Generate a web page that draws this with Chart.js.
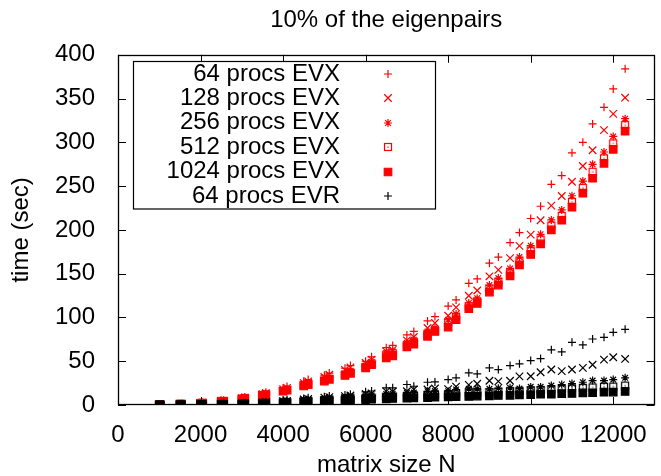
<!DOCTYPE html>
<html>
<head>
<meta charset="utf-8">
<script src="https://cdn.jsdelivr.net/npm/chart.js@4.4.1/dist/chart.umd.min.js"></script>
<style>
  html, body { margin: 0; padding: 0; background: #fff; overflow: hidden; }
</style>
</head>
<body>
<canvas id="chart" width="661" height="476"></canvas>
<script>
// matrix sizes: multiples of 500 and of 512
const matrixSizes = [1000, 1024, 1500, 1536, 2000, 2048, 2500, 2560, 3000, 3072, 3500, 3584, 4000, 4096, 4500, 4608,
  5000, 5120, 5500, 5632, 6000, 6144, 6500, 6656, 7000, 7168, 7500, 7680, 8000, 8192, 8500, 8704, 9000, 9216,
  9500, 9728, 10000, 10240, 10500, 10752, 11000, 11264, 11500, 11776, 12000, 12288];

const evx64 = [0.4, 0.4, 1.2, 1.3, 2.6, 2.8, 5, 5.4, 8.5, 9.2, 13.5, 14.5, 19.5, 21, 27, 29, 34, 36.5, 42, 45, 50, 55,
  65.5, 68, 80, 84, 96, 101, 113, 120, 139, 144, 162, 169, 185.5, 197, 213, 227, 252, 262, 288, 300, 321, 340, 361, 384];
const evx128 = [0.35, 0.4, 1.1, 1.2, 2.4, 2.6, 4.6, 5, 7.8, 8.5, 12.5, 13.4, 18, 19.5, 25, 27, 32, 34.5, 40, 43, 48, 51.8,
  61.3, 63, 73.8, 77.7, 88, 93.7, 102, 111.5, 124.8, 130.8, 147, 154.4, 167.7, 181.8, 194.6, 211, 227.7, 238.7, 255, 273, 291, 314, 332.5, 351];
const evx256 = [0.3, 0.3, 1, 1.1, 2.2, 2.4, 4.2, 4.6, 7.2, 7.8, 11.5, 12.3, 16.6, 17.9, 23, 24.7, 29, 31, 36, 38.5, 45, 49,
  59.5, 61.3, 71, 74.6, 84, 88, 97.4, 104, 116.5, 122, 137, 145, 156, 169, 182, 195, 211.4, 222.8, 239, 255.8, 274.9, 289, 306.8, 327];
const evx512 = [0.3, 0.3, 1, 1, 2.1, 2.3, 4.1, 4.4, 7, 7.6, 11.2, 12, 16.1, 17.4, 22.3, 24, 28, 30, 34.8, 37.3, 43.5, 47.5,
  57.5, 59.3, 68.8, 72.2, 81.5, 85.4, 94.5, 101, 113, 118.3, 133, 140.5, 151.3, 164, 176.5, 189, 205, 216, 232, 248, 266.4, 281.7, 298.8, 319.7];
const evx1024 = [0.3, 0.3, 0.9, 1, 2, 2.2, 3.9, 4.3, 6.8, 7.4, 10.9, 11.6, 15.7, 16.9, 21.7, 23.3, 27.3, 29.3, 33.7, 36.2, 42.5, 46,
  53.8, 56, 66.3, 69.5, 78.4, 84, 89, 97.4, 110, 116, 129, 137, 147.5, 160, 172, 184, 200, 211, 226, 242, 259, 276, 292, 312.8];

const evr64 = [0.1, 0.1, 0.3, 0.3, 0.6, 0.7, 1.2, 1.3, 2.2, 2.4, 3.5, 3.8, 5.8, 6.1, 7.5, 8.2, 9.5, 10.3, 11.5, 12.4, 15, 16,
  19.6, 19.6, 23.4, 21.4, 26, 26.4, 29, 31, 36.7, 35.5, 42.4, 40.5, 45, 47, 50.7, 53, 63, 60.6, 71.6, 68.6, 75.4, 77.3, 83, 86.4];
const evr128 = [0.1, 0.1, 0.2, 0.3, 0.5, 0.6, 1, 1.1, 1.8, 2, 2.9, 3.1, 4.5, 4.8, 6.3, 6.8, 8.4, 9, 10.2, 10.9, 12.6, 13.2,
  15.6, 15.4, 15.7, 17.7, 17.7, 18.8, 18.2, 21, 23, 24.3, 27.7, 27, 27.7, 32.7, 32.8, 37.4, 40.5, 38.7, 40.5, 42.4, 46, 51.8, 54.5, 52.6];
const evr256 = [0.1, 0.1, 0.2, 0.2, 0.4, 0.5, 0.9, 1, 1.5, 1.7, 2.5, 2.7, 3.8, 4, 5.3, 5.7, 6.9, 7.4, 8.4, 9, 10.4, 11,
  12.7, 12.9, 13.9, 14.2, 15.7, 15.9, 15.7, 17.7, 18.5, 18.6, 18.5, 19.2, 19.6, 18.8, 20.7, 20.7, 22.2, 23.4, 24.5, 26, 27.9, 27.9, 29, 31];
const evr512 = [0.1, 0.1, 0.2, 0.2, 0.4, 0.4, 0.8, 0.8, 1.3, 1.4, 2, 2.2, 3, 3.2, 4.2, 4.5, 5.5, 5.9, 6.8, 7.2, 8, 8.5,
  9.5, 9.9, 10.5, 11, 11.5, 12, 12.5, 13, 13.5, 14, 14.5, 15, 15.5, 16.2, 16.5, 17.2, 17.5, 18.3, 19, 19.6, 20, 20.8, 21, 22.2];
const evr1024 = [0.1, 0.1, 0.2, 0.2, 0.4, 0.4, 0.7, 0.7, 1.1, 1.2, 1.7, 1.8, 2.4, 2.6, 3.3, 3.5, 4.3, 4.6, 5.2, 5.5, 6.2, 6.6,
  7, 7.4, 7.8, 8.2, 8.5, 8.9, 9.2, 9.6, 9.8, 10.2, 10.5, 10.9, 11, 11.5, 11.8, 12.3, 12.4, 13, 13.2, 13.8, 14, 14.6, 14.8, 15.5];

const xTicks = [0, 2000, 4000, 6000, 8000, 10000, 12000];
const yTicks = [0, 50, 100, 150, 200, 250, 300, 350, 400];
const legendCount = 6; // the key only lists the first six series

// gnuplot style open square with a dot in the middle
function openBox(color) {
  const c = document.createElement('canvas');
  c.width = 10; c.height = 10;
  const g = c.getContext('2d');
  g.strokeStyle = color;
  g.lineWidth = 1.2;
  g.strokeRect(1.5, 1.5, 7, 7);
  g.fillStyle = color;
  g.fillRect(4.5, 4.5, 1.2, 1.2);
  return c;
}

const red = '#ff0000', black = '#000000';
const series = [
  ['64 procs EVX', evx64, red, 'cross', 4, false],
  ['128 procs EVX', evx128, red, 'crossRot', 5.3, false],
  ['256 procs EVX', evx256, red, 'star', 4, false],
  ['512 procs EVX', evx512, red, openBox(red), 5, false],
  ['1024 procs EVX', evx1024, red, 'rect', 5.3, true],
  ['64 procs EVR', evr64, black, 'cross', 4, false],
  ['128 procs EVR', evr128, black, 'crossRot', 5.3, false],
  ['256 procs EVR', evr256, black, 'star', 4, false],
  ['512 procs EVR', evr512, black, openBox(black), 5, false],
  ['1024 procs EVR', evr1024, black, 'rect', 5.3, true]
];

const datasets = series.map(([label, vals, color, style, r, filled], i) => ({
  label,
  data: matrixSizes.map((n, j) => ({ x: n, y: vals[j] })),
  showLine: false,
  order: -i,
  pointStyle: style,
  pointRadius: r,
  pointBorderWidth: 1.2,
  pointBorderColor: color,
  pointBackgroundColor: filled ? color : 'rgba(0,0,0,0)'
}));

const font = '"Liberation Sans", Arial, sans-serif';

const gnuplotFrame = {
  id: 'gnuplotFrame',
  afterDatasetsDraw(chart) {
    const { ctx, chartArea: a, scales: { x, y } } = chart;
    ctx.save();
    ctx.strokeStyle = '#000';
    ctx.lineWidth = 1;
    ctx.beginPath();
    xTicks.forEach(v => {
      const px = Math.round(x.getPixelForValue(v)) + 0.5;
      ctx.moveTo(px, a.bottom); ctx.lineTo(px, a.bottom - 8);
      ctx.moveTo(px, a.top); ctx.lineTo(px, a.top + 8);
    });
    yTicks.forEach(v => {
      const py = Math.round(y.getPixelForValue(v)) + 0.5;
      ctx.moveTo(a.left, py); ctx.lineTo(a.left + 8, py);
      ctx.moveTo(a.right, py); ctx.lineTo(a.right - 8, py);
    });
    ctx.stroke();
    ctx.lineWidth = 1.3;
    ctx.strokeRect(Math.round(a.left) + 0.5, Math.round(a.top) + 0.5, Math.round(a.right - a.left) - 1, Math.round(a.bottom - a.top) - 1);

    // key box
    const box = { left: 133.5, top: 61.5, right: 435.5, bottom: 209 };
    ctx.fillStyle = '#fff';
    ctx.fillRect(box.left, box.top, box.right - box.left, box.bottom - box.top);
    ctx.lineWidth = 1.2;
    ctx.strokeRect(box.left, box.top, box.right - box.left, box.bottom - box.top);
    ctx.font = '24px ' + font;
    ctx.textAlign = 'right';
    ctx.textBaseline = 'middle';
    chart.data.datasets.slice(0, legendCount).forEach((ds, i) => {
      const cy = 74 + i * 24.4;
      ctx.fillStyle = '#000';
      ctx.fillText(ds.label, 340, cy);
      ctx.strokeStyle = ds.pointBorderColor;
      ctx.fillStyle = ds.pointBackgroundColor;
      ctx.lineWidth = ds.pointBorderWidth;
      Chart.helpers.drawPoint(ctx, { pointStyle: ds.pointStyle, radius: ds.pointRadius, rotation: 0, borderWidth: ds.pointBorderWidth }, 388, Math.round(cy));
    });
    ctx.restore();
  }
};

new Chart(document.getElementById('chart'), {
  type: 'scatter',
  data: { datasets },
  options: {
    responsive: false,
    animation: false,
    events: [],
    layout: { padding: 0 },
    plugins: {
      legend: { display: false },
      tooltip: { enabled: false },
      title: {
        display: true,
        text: '10% of the eigenpairs',
        fullSize: false,
        color: '#000',
        font: { family: font, size: 24, weight: 'normal' },
        padding: { top: 6, bottom: 20 }
      }
    },
    scales: {
      x: {
        type: 'linear',
        min: 0,
        max: 13000,
        afterFit: s => { s.height = 71; },
        afterBuildTicks: s => { s.ticks = xTicks.map(v => ({ value: v })); },
        grid: { display: false },
        border: { display: false },
        ticks: { color: '#000', padding: 8, maxRotation: 0, autoSkip: false, font: { family: font, size: 24 }, callback: v => String(v) },
        title: { display: true, text: 'matrix size N', color: '#000', font: { family: font, size: 24, lineHeight: 0.9 }, padding: { top: 0, bottom: 0 } }
      },
      y: {
        min: 0,
        max: 400,
        afterFit: s => { s.width = 118; },
        afterBuildTicks: s => { s.ticks = yTicks.map(v => ({ value: v })); },
        grid: { display: false },
        border: { display: false },
        ticks: { color: '#000', padding: 15, font: { family: font, size: 24 }, callback: v => String(v) },
        title: { display: true, text: 'time (sec)', color: '#000', font: { family: font, size: 24 }, padding: { top: 7, bottom: 0 } }
      }
    }
  },
  plugins: [gnuplotFrame]
});
</script>
</body>
</html>
